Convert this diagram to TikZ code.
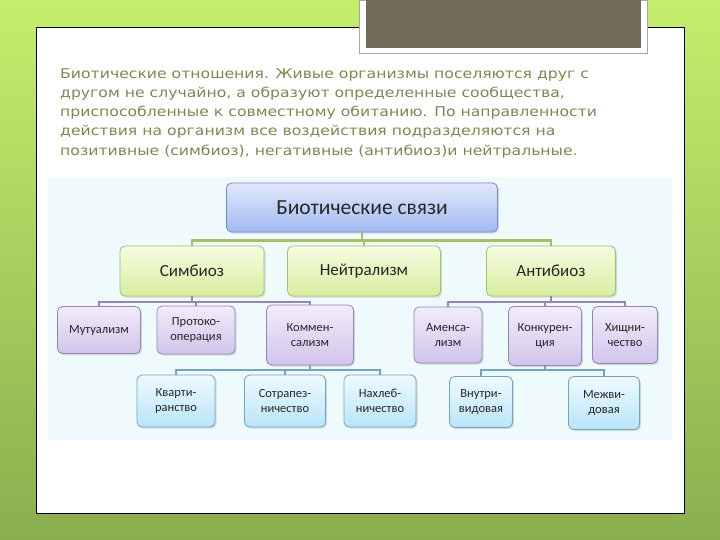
\documentclass[tikz,border=0pt]{standalone}
\usepackage{fontspec}
\setmainfont{Carlito}
\newfontfamily\slidefont[FakeStretch=1.16]{DejaVu Sans}
\usetikzlibrary{shadows}
\definecolor{bgtop}{RGB}{198,238,108}
\definecolor{bgbot}{RGB}{138,174,78}
\definecolor{taupe}{RGB}{115,106,90}
\definecolor{introtext}{RGB}{132,132,82}
\definecolor{diagbg}{RGB}{238,250,252}
\definecolor{blueup}{RGB}{226,232,250}
\definecolor{bluedn}{RGB}{160,186,240}
\definecolor{blueln}{RGB}{112,140,204}
\definecolor{limeup}{RGB}{246,252,226}
\definecolor{limedn}{RGB}{216,238,160}
\definecolor{limeln}{RGB}{168,190,98}
\definecolor{lilaup}{RGB}{242,236,250}
\definecolor{liladn}{RGB}{210,196,236}
\definecolor{lilaln}{RGB}{150,132,182}
\definecolor{cyanup}{RGB}{238,250,255}
\definecolor{cyandn}{RGB}{186,228,248}
\definecolor{cyanln}{RGB}{112,166,190}
\tikzset{
    box/.style = {rectangle, rounded corners=5pt, line width=0.8pt, align=center, inner sep=2pt, text=black!85,
                  drop shadow={opacity=0.25,shadow xshift=1.5pt,shadow yshift=-1.5pt}},
    boxtop/.style = {box, draw=blueln, top color=blueup, bottom color=bluedn, font=\fontsize{21.5}{25}\selectfont},
    boxlev2/.style = {box, draw=limeln, top color=limeup, bottom color=limedn, font=\fontsize{17}{20}\selectfont},
    boxlev3/.style = {box, draw=lilaln, top color=lilaup, bottom color=liladn, font=\fontsize{12.5}{15}\selectfont},
    boxlev4/.style = {box, draw=cyanln, top color=cyanup, bottom color=cyandn, font=\fontsize{12.5}{15}\selectfont},
    edgeg/.style = {line width=2.6pt, draw=limeln}, % level 1 -> 2
    edgep/.style = {line width=2pt, draw=lilaln}, % level 2 -> 3
    edget/.style = {line width=2pt, draw=cyanln}, % level 3 -> 4
    intro/.style = {align=left, inner sep=0pt, text=introtext, font=\slidefont\fontsize{13.5}{19.3}\selectfont}
}
\begin{document}
\begin{tikzpicture}[x=1pt,y=-1pt]
\useasboundingbox (0,0) rectangle (720,540);
% slide
\shade[top color=bgtop, bottom color=bgbot] (0,0) rectangle (720,540);
\draw[black, line width=0.9pt, fill=white] (36,27) rectangle (684,513);
\draw[gray!70, fill=white] (359,0) rectangle (647,53);
\fill[taupe] (366,0) rectangle (641,48);
%
\node[intro, anchor=north west] (txt) at (60,68)
  {Биотические отношения. Живые организмы поселяются друг с\\
   другом не случайно, а образуют определенные сообщества,\\
   приспособленные к совместному обитанию. По направленности\\
   действия на организм все воздействия подразделяются на\\
   позитивные (симбиоз), негативные (антибиоз)и нейтральные.};
%
\fill[diagbg] (48,177) rectangle (672,440);
%
\node[boxtop, minimum width=271pt, minimum height=49pt] at (362,207.5) (bio) {Биотические связи};
%
\node[boxlev2, minimum width=144pt, minimum height=50pt] at (192,271) (sim) {Симбиоз};
\node[boxlev2, minimum width=153pt, minimum height=50pt] at (364,271) (neu) {Нейтрализм};
\node[boxlev2, minimum width=129pt, minimum height=50pt] at (551,271) (ant) {Антибиоз};
%
\node[boxlev3, minimum width=83pt, minimum height=47pt] at (99,330) (mut) {Мутуализм};
\node[boxlev3, minimum width=78pt, minimum height=48pt] at (196,330) (pro) {Протоко-\\операция};
\node[boxlev3, minimum width=87pt, minimum height=60pt] at (310,335) (kom) {Коммен-\\сализм};
\node[boxlev3, minimum width=68pt, minimum height=56pt] at (448,335) (ame) {Аменса-\\лизм};
\node[boxlev3, minimum width=73pt, minimum height=59pt] at (545,336) (kon) {Конкурен-\\ция};
\node[boxlev3, minimum width=65pt, minimum height=57pt] at (625,335) (his) {Хищни-\\чество};
%
\node[boxlev4, minimum width=78pt, minimum height=52pt] at (176,401) (kva) {Кварти-\\ранство};
\node[boxlev4, minimum width=81pt, minimum height=52pt] at (285,401) (sot) {Сотрапез-\\ничество};
\node[boxlev4, minimum width=72pt, minimum height=52pt] at (380,401) (nah) {Нахлеб-\\ничество};
\node[boxlev4, minimum width=63pt, minimum height=51pt] at (481,402) (vnu) {Внутри-\\видовая};
\node[boxlev4, minimum width=71pt, minimum height=53pt] at (604,403) (mez) {Межви-\\довая};
%
\foreach \c in {sim,neu,ant}
  \draw[edgeg] (bio.south) -- ++(0,8) -| (\c.north);
\foreach \c in {mut,pro,kom}
  \draw[edgep] (sim.south) -- ++(0,6) -| (\c.north);
\foreach \c in {ame,kon,his}
  \draw[edgep] (ant.south) -- ++(0,6) -| (\c.north);
\foreach \c in {kva,sot,nah}
  \draw[edget] (kom.south) -- ++(0,5) -| (\c.north);
\foreach \c in {vnu,mez}
  \draw[edget] (kon.south) -- ++(0,4.5) -| (\c.north);

\end{tikzpicture}
\end{document}
